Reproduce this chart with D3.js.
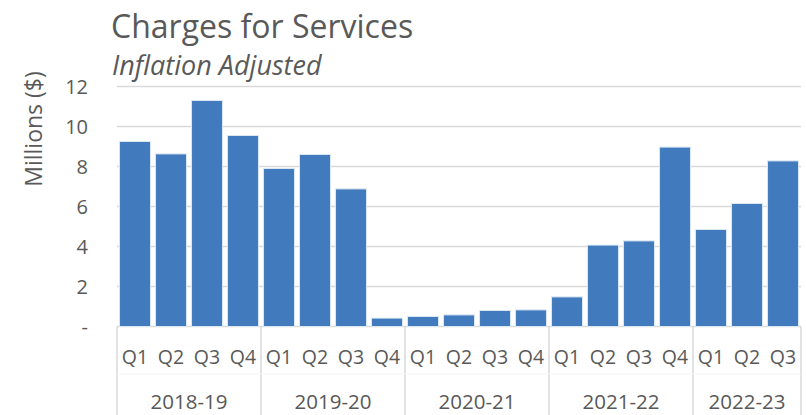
<!DOCTYPE html>
<meta charset="utf-8">
<style>
body { margin: 0; background: #fff; }
text { font-family: "Open Sans", "Noto Sans", sans-serif; fill: #595959; }
.grid line { stroke: #d9d9d9; stroke-width: 1.5px; }
.bars rect { fill: #417bbd; stroke: #dbe6f3; stroke-width: 1px; }
.sep line { stroke: #d9d9d9; stroke-width: 1.5px; }
</style>
<svg width="806" height="415"></svg>
<script src="https://cdn.jsdelivr.net/npm/d3@7"></script>
<script>

var years = ["2018-19", "2019-20", "2020-21", "2021-22", "2022-23"];
var quarters = ["Q1", "Q2", "Q3", "Q4", "Q1", "Q2", "Q3", "Q4", "Q1", "Q2", "Q3", "Q4",
                "Q1", "Q2", "Q3", "Q4", "Q1", "Q2", "Q3"];
var yearOf = [0, 0, 0, 0, 1, 1, 1, 1, 2, 2, 2, 2, 3, 3, 3, 3, 4, 4, 4];
var values = [9.25, 8.63, 11.3, 9.55, 7.9, 8.6, 6.88, 0.42, 0.5, 0.58, 0.8, 0.83,
              1.48, 4.07, 4.28, 8.97, 4.85, 6.15, 8.28];
var yTicks = [0, 2, 4, 6, 8, 10, 12];

var svg = d3.select("svg");

var x = d3.scaleBand()
    .domain(d3.range(values.length))
    .range([117, 801])
    .paddingInner(0.14)
    .paddingOuter(0.07);

var y = d3.scaleLinear()
    .domain([0, 12])
    .range([326.5, 86.5]);

// gridlines
svg.append("g")
    .attr("class", "grid")
  .selectAll("line")
  .data(yTicks)
  .enter().append("line")
    .attr("x1", 117)
    .attr("x2", 801)
    .attr("y1", function(d) { return y(d); })
    .attr("y2", function(d) { return y(d); });

// y tick labels
svg.append("g")
  .selectAll("text")
  .data(yTicks)
  .enter().append("text")
    .attr("x", 88)
    .attr("y", function(d) { return y(d); })
    .attr("dy", "0.36em")
    .attr("text-anchor", "end")
    .style("font-size", "20px")
    .text(function(d) { return d === 0 ? "-" : d; });

// bars
svg.append("g")
    .attr("class", "bars")
  .selectAll("rect")
  .data(values)
  .enter().append("rect")
    .attr("x", function(d, i) { return x(i); })
    .attr("y", function(d) { return y(d); })
    .attr("width", x.bandwidth())
    .attr("height", function(d) { return y(0) - y(d); });

// category separators (multi-level axis)
var bounds = [0];
years.forEach(function(yr, k) {
  bounds.push(yearOf.lastIndexOf(k) + 1);
});
var step = x.step();
var xb = function(i) { return 117 + i * step; };

svg.append("g")
    .attr("class", "sep")
  .selectAll("line")
  .data(bounds)
  .enter().append("line")
    .attr("x1", function(d) { return xb(d); })
    .attr("x2", function(d) { return xb(d); })
    .attr("y1", y(0))
    .attr("y2", 415);

svg.append("line")
    .attr("x1", 117).attr("x2", 801)
    .attr("y1", 374).attr("y2", 374)
    .style("stroke", "#f5f5f5").style("stroke-width", 1);

// quarter labels
svg.append("g")
  .selectAll("text")
  .data(quarters)
  .enter().append("text")
    .attr("x", function(d, i) { return x(i) + x.bandwidth() / 2; })
    .attr("y", 364)
    .attr("text-anchor", "middle")
    .style("font-size", "19.5px")
    .text(function(d) { return d; });

// year labels
svg.append("g")
  .selectAll("text")
  .data(years)
  .enter().append("text")
    .attr("x", function(d, k) { return (xb(bounds[k]) + xb(bounds[k + 1])) / 2; })
    .attr("y", 409)
    .attr("text-anchor", "middle")
    .style("font-size", "20.5px")
    .text(function(d) { return d; });

// titles
svg.append("text")
    .attr("x", 111)
    .attr("y", 38)
    .style("font-size", "32px")
    .text("Charges for Services");

svg.append("text")
    .attr("x", 112)
    .attr("y", 75)
    .style("font-size", "27px")
    .style("font-style", "italic")
    .text("Inflation Adjusted");

svg.append("text")
    .attr("transform", "translate(42,129) rotate(-90)")
    .attr("text-anchor", "middle")
    .style("font-size", "23px")
    .text("Millions ($)");

</script>
